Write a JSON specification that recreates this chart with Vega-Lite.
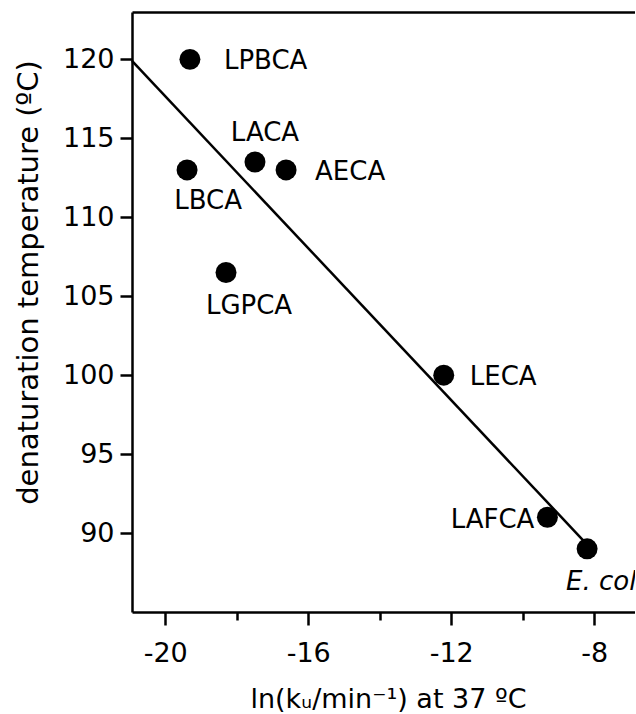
{
  "$schema": "https://vega.github.io/schema/vega-lite/v6.json",
  "width": 503,
  "height": 600,
  "padding": {"left": 14, "top": 12, "right": 0, "bottom": 0},
  "autosize": {"type": "pad"},
  "background": "white",
  "config": {
    "view": {"stroke": null},
    "font": "DejaVu Sans",
    "axis": {"grid": false, "labelFlush": false, "labelOverlap": false, "domainColor": "black", "tickColor": "black", "labelColor": "black", "titleColor": "black", "titleFontWeight": "normal", "domainWidth": 2.5, "tickWidth": 2.5}
  },
  "datasets": {
    "points": [
      {"name": "LPBCA", "x": -19.31, "y": 120},
      {"name": "LACA", "x": -17.49, "y": 113.5},
      {"name": "AECA", "x": -16.62, "y": 113},
      {"name": "LBCA", "x": -19.39, "y": 113},
      {"name": "LGPCA", "x": -18.3, "y": 106.5},
      {"name": "LECA", "x": -12.21, "y": 100},
      {"name": "LAFCA", "x": -9.31, "y": 91},
      {"name": "E. coli", "x": -8.2, "y": 89}
    ],
    "fit": [
      {"x": -20.93, "y": 119.9},
      {"x": -8.31, "y": 89.54}
    ]
  },
  "encoding": {
    "y": {"field": "y", "type": "quantitative",
      "scale": {"domain": [85, 123], "nice": false, "zero": false},
      "axis": {"values": [90, 95, 100, 105, 110, 115, 120], "tickSize": 12, "labelFontSize": 27, "labelPadding": 6, "title": "denaturation temperature (ºC)", "titleFontSize": 29, "titlePadding": 19, "titleY": 270}}
  },
  "resolve": {"axis": {"x": "independent"}},
  "layer": [
    {
      "data": {"name": "fit"},
      "mark": {"type": "line", "color": "black", "strokeWidth": 2.5},
      "encoding": {
        "x": {"field": "x", "type": "quantitative",
          "scale": {"domain": [-20.93, -6.86], "nice": false, "zero": false},
          "axis": {"orient": "bottom", "values": [-20, -16, -12, -8], "tickSize": 13, "labelFontSize": 27, "labelPadding": 15, "labelExpr": "replace(datum.label, '−', '-')", "title": "ln(kᵤ/min⁻¹) at 37 ºC", "titleFontSize": 27, "titlePadding": 20, "titleX": 256}}
      }
    },
    {
      "data": {"name": "points"},
      "mark": {"type": "point", "shape": "circle", "filled": true, "color": "black", "opacity": 1, "size": 440},
      "encoding": {
        "x": {"field": "x", "type": "quantitative",
          "axis": {"orient": "bottom", "values": [-18, -14, -10], "tickSize": 8, "labels": false, "domain": false, "title": null}}
      }
    },
    {
      "data": {"name": "points"},
      "transform": [{"filter": "datum.name === 'LPBCA'"}],
      "mark": {"type": "text", "align": "left", "baseline": "middle", "dx": 34, "dy": 2, "fontSize": 26, "color": "black"},
      "encoding": {
        "x": {"field": "x", "type": "quantitative",
          "axis": {"orient": "top", "ticks": false, "labels": false, "domain": true, "title": null}},
        "text": {"field": "name"}
      }
    },
    {
      "data": {"name": "points"},
      "transform": [{"filter": "datum.name === 'AECA'"}],
      "mark": {"type": "text", "align": "left", "baseline": "middle", "dx": 29, "dy": 2, "fontSize": 26, "color": "black"},
      "encoding": {
        "x": {"field": "x", "type": "quantitative", "axis": null},
        "text": {"field": "name"}
      }
    },
    {
      "data": {"name": "points"},
      "transform": [{"filter": "datum.name === 'LECA'"}],
      "mark": {"type": "text", "align": "left", "baseline": "middle", "dx": 26, "dy": 2, "fontSize": 26, "color": "black"},
      "encoding": {
        "x": {"field": "x", "type": "quantitative", "axis": null},
        "text": {"field": "name"}
      }
    },
    {
      "data": {"name": "points"},
      "transform": [{"filter": "datum.name === 'LACA'"}],
      "mark": {"type": "text", "align": "center", "baseline": "middle", "dx": 10, "dy": -29, "fontSize": 26, "color": "black"},
      "encoding": {
        "x": {"field": "x", "type": "quantitative", "axis": null},
        "text": {"field": "name"}
      }
    },
    {
      "data": {"name": "points"},
      "transform": [{"filter": "datum.name === 'LBCA'"}],
      "mark": {"type": "text", "align": "center", "baseline": "middle", "dx": 21, "dy": 31, "fontSize": 26, "color": "black"},
      "encoding": {
        "x": {"field": "x", "type": "quantitative", "axis": null},
        "text": {"field": "name"}
      }
    },
    {
      "data": {"name": "points"},
      "transform": [{"filter": "datum.name === 'LGPCA'"}],
      "mark": {"type": "text", "align": "center", "baseline": "middle", "dx": 23, "dy": 33, "fontSize": 26, "color": "black"},
      "encoding": {
        "x": {"field": "x", "type": "quantitative", "axis": null},
        "text": {"field": "name"}
      }
    },
    {
      "data": {"name": "points"},
      "transform": [{"filter": "datum.name === 'LAFCA'"}],
      "mark": {"type": "text", "align": "right", "baseline": "middle", "dx": -13, "dy": 3, "fontSize": 26, "color": "black"},
      "encoding": {
        "x": {"field": "x", "type": "quantitative", "axis": null},
        "text": {"field": "name"}
      }
    },
    {
      "data": {"name": "points"},
      "transform": [{"filter": "datum.name === 'E. coli'"}],
      "mark": {"type": "text", "align": "left", "baseline": "middle", "dx": -21, "dy": 33, "fontSize": 26, "fontStyle": "italic", "color": "black", "clip": true},
      "encoding": {
        "x": {"field": "x", "type": "quantitative", "axis": null},
        "text": {"field": "name"}
      }
    }
  ]
}
